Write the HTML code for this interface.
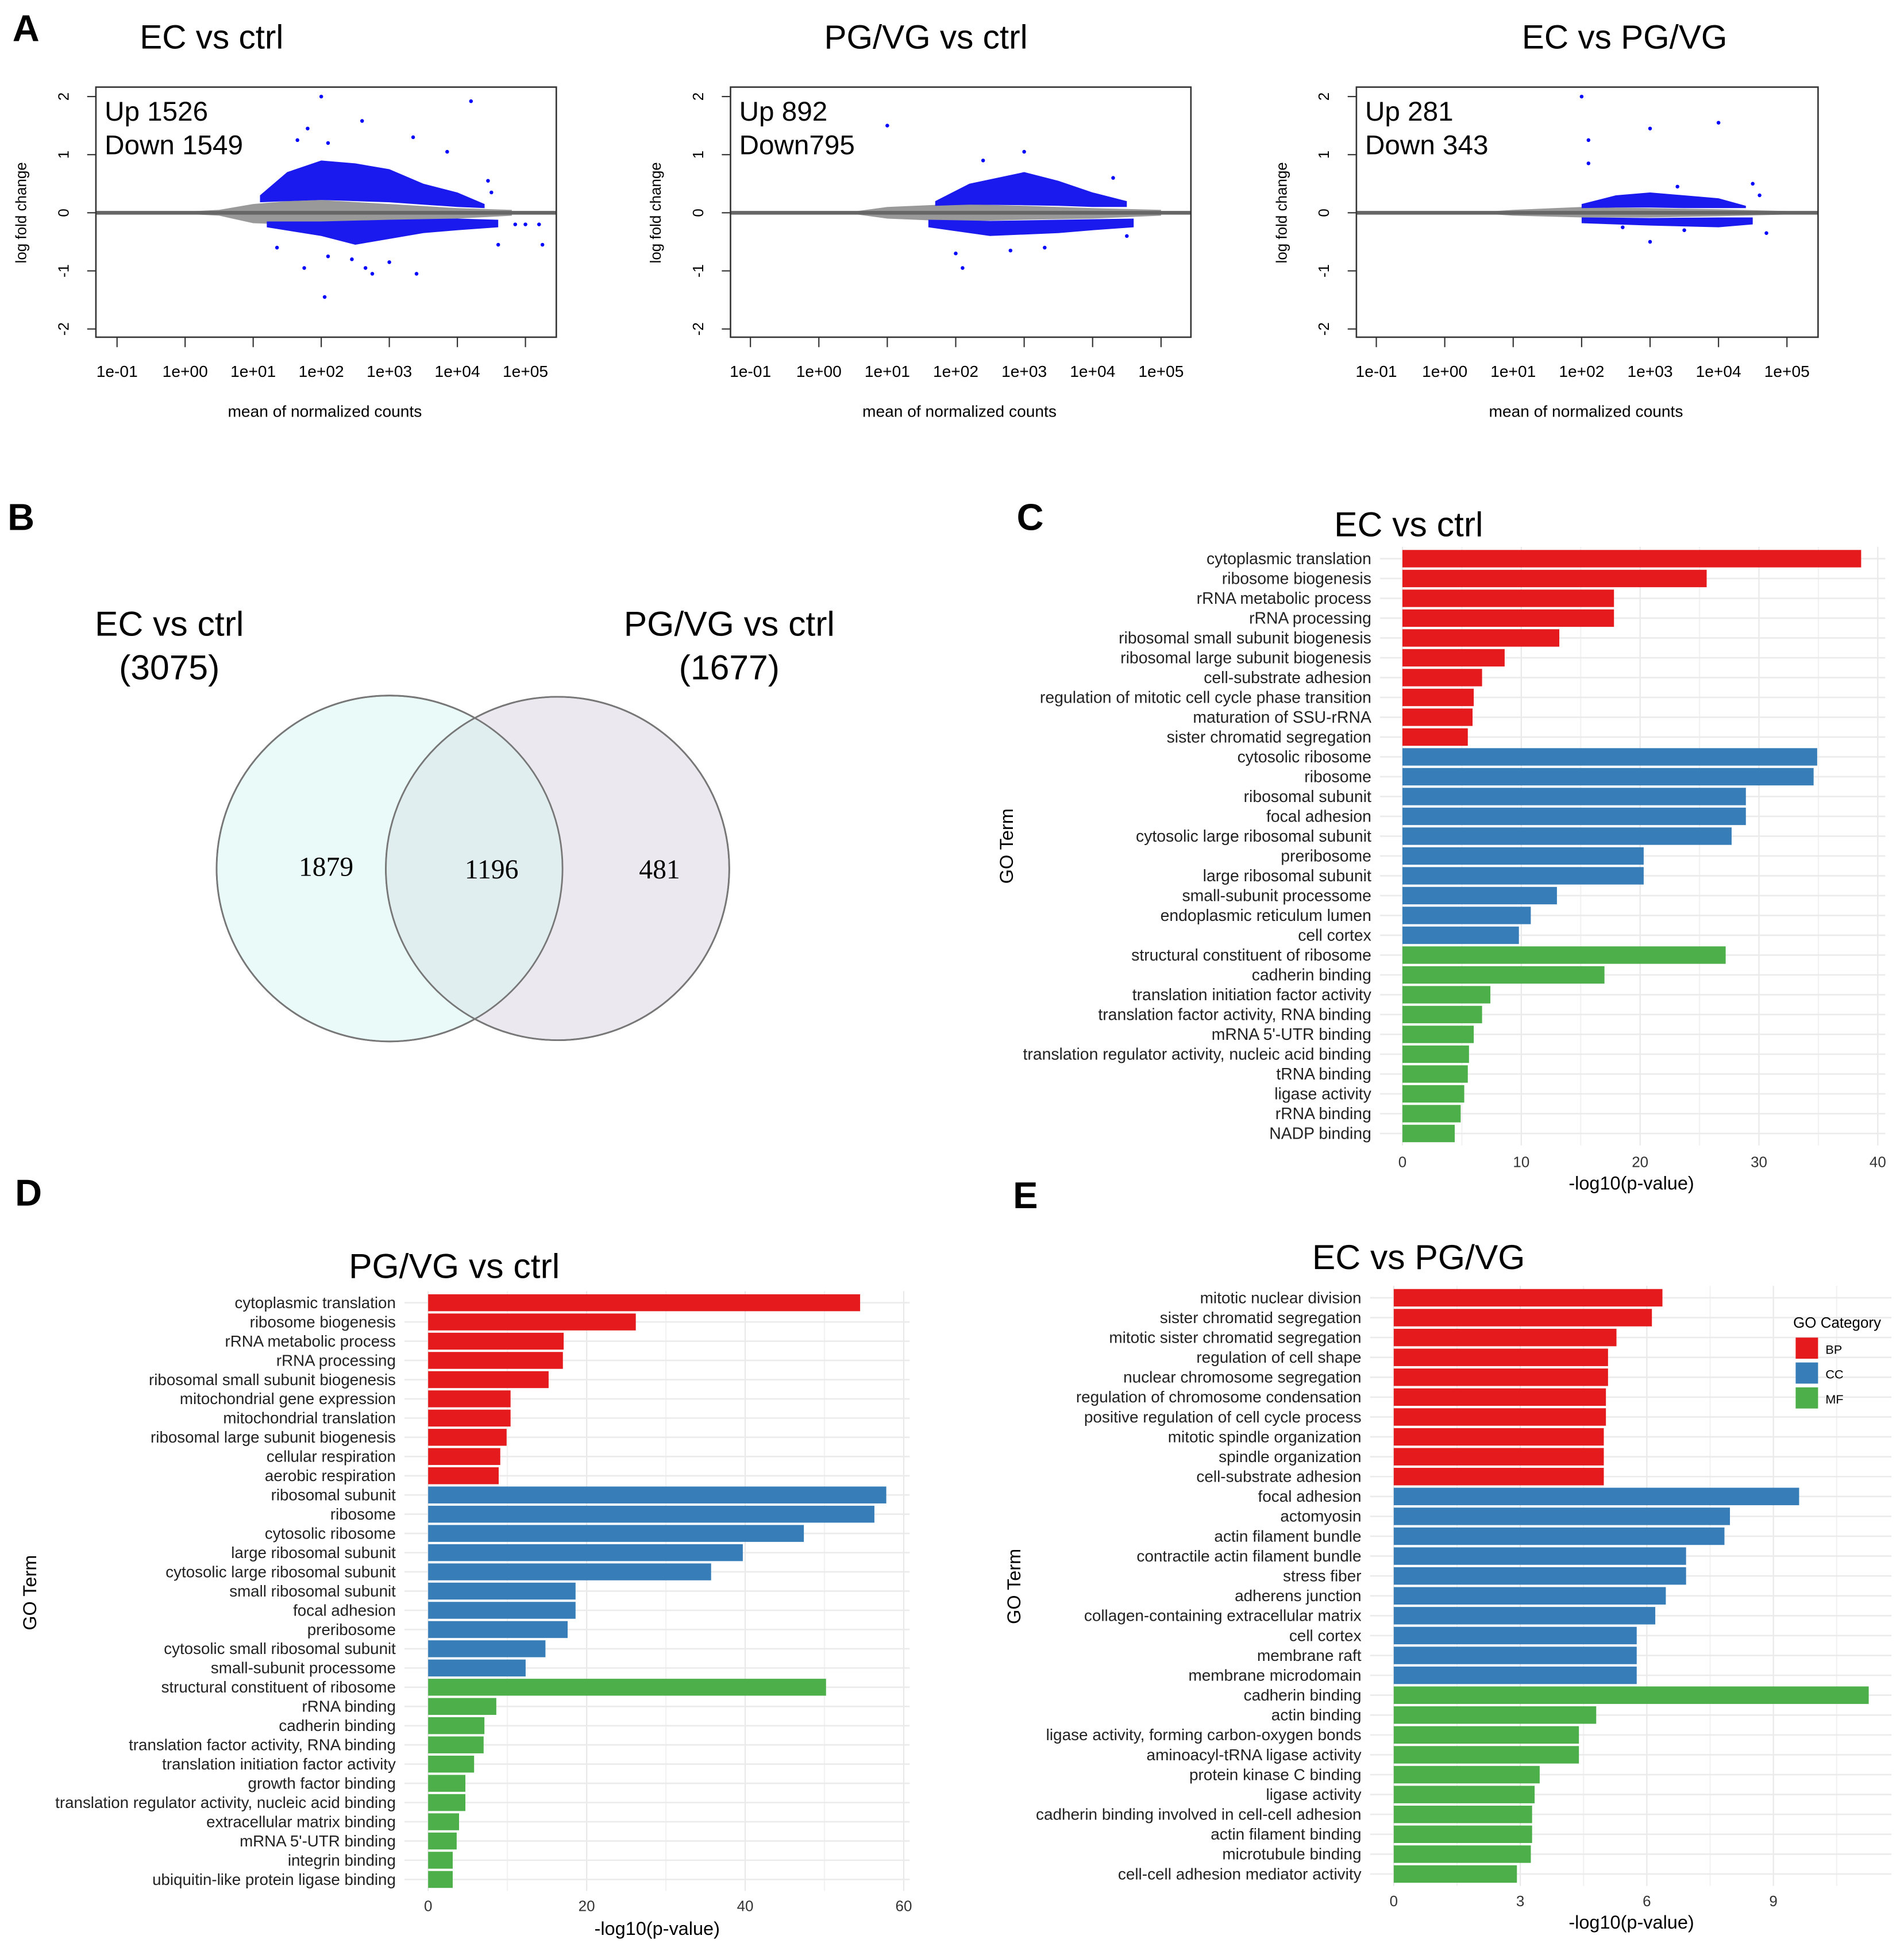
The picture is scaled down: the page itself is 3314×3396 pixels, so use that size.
<!DOCTYPE html>
<html><head><meta charset="utf-8"><style>
html,body{margin:0;padding:0;background:#fff;}
svg{display:block;}
text{font-family:"Liberation Sans",sans-serif;}
.nar{font-family:"Liberation Sans Narrow","Liberation Sans",sans-serif;}
</style></head><body>
<svg id="fig" xmlns="http://www.w3.org/2000/svg" width="3314" height="3396" viewBox="0 0 1530 1568">
<rect width="1530" height="1568" fill="#fff"/>
<g font-weight="bold" font-size="30">
<text x="10" y="33">A</text><text x="6" y="426">B</text><text x="817" y="426">C</text><text x="12" y="969">D</text><text x="814" y="971">E</text>
</g>
<g>
<defs><clipPath id="c1"><circle cx="313" cy="698" r="139"/></clipPath></defs>
<circle cx="313" cy="698" r="139" fill="#eafaf8" stroke="#777" stroke-width="1.3"/>
<circle cx="448" cy="698" r="138" fill="#ece8ef" stroke="#777" stroke-width="1.3"/>
<circle cx="448" cy="698" r="138" fill="#e1eef0" clip-path="url(#c1)" stroke="none"/>
<circle cx="313" cy="698" r="139" fill="none" stroke="#777" stroke-width="1.3"/>
<circle cx="448" cy="698" r="138" fill="none" stroke="#777" stroke-width="1.3"/>
<text x="136" y="511" font-size="28" text-anchor="middle">EC vs ctrl</text>
<text x="136" y="546" font-size="28" text-anchor="middle">(3075)</text>
<text x="586" y="511" font-size="28" text-anchor="middle">PG/VG vs ctrl</text>
<text x="586" y="546" font-size="28" text-anchor="middle">(1677)</text>
<g font-size="22" text-anchor="middle">
<text x="262" y="704" style="font-family:'Liberation Serif',serif">1879</text>
<text x="395" y="706" style="font-family:'Liberation Serif',serif">1196</text>
<text x="530" y="706" style="font-family:'Liberation Serif',serif">481</text>
</g>
</g>
<g id="ma"></g>
<g id="bars"></g>
</svg>
<script>
var NS="http://www.w3.org/2000/svg";
function mk(p,tag,at,txt){var e=document.createElementNS(NS,tag);for(var k in at)e.setAttribute(k,at[k]);if(txt!==undefined)e.textContent=txt;p.appendChild(e);return e;}

// ===== MA plot data =====
var maTitles=["EC vs ctrl","PG/VG vs ctrl","EC vs PG/VG"];
var maUp=["Up 1526","Up 892","Up 281"];
var maDown=["Down 1549","Down795","Down 343"];
var xTickLabels=["1e-01","1e+00","1e+01","1e+02","1e+03","1e+04","1e+05"];
var yTickLabels=["2","1","0","-1","-2"];
// envelopes: [log10 mean, lfc]
var greyTop1=[[0,0.02],[0.5,0.05],[1,0.15],[1.5,0.2],[2,0.22],[3,0.15],[4,0.08],[4.8,0.05]];
var greyBot1=[[0,-0.02],[0.5,-0.05],[1,-0.18],[1.5,-0.2],[2,-0.2],[3,-0.15],[4,-0.1],[4.8,-0.05]];
var upTop1=[[1.1,0.3],[1.5,0.7],[2,0.9],[2.5,0.85],[3,0.75],[3.5,0.5],[4,0.35],[4.4,0.15]];
var upBot1=[[1.1,0.18],[1.5,0.2],[2,0.22],[2.5,0.2],[3,0.18],[3.5,0.14],[4,0.1],[4.4,0.08]];
var dnTop1=[[1.2,-0.15],[2,-0.15],[3,-0.12],[4,-0.1],[4.6,-0.12]];
var dnBot1=[[1.2,-0.25],[2,-0.4],[2.5,-0.55],[3,-0.45],[3.5,-0.35],[4,-0.3],[4.6,-0.25]];
var pts1=[[2.0,2.0],[4.2,1.92],[2.6,1.58],[1.8,1.45],[1.65,1.25],[2.1,1.2],[3.35,1.3],[3.85,1.05],[4.45,0.55],[4.5,0.35],[1.35,-0.6],[1.75,-0.95],[2.45,-0.8],[2.1,-0.75],[2.65,-0.95],[2.75,-1.05],[3.0,-0.85],[3.4,-1.05],[2.05,-1.45],[4.6,-0.55],[5.2,-0.2],[5.0,-0.2],[5.25,-0.55],[4.85,-0.2]];
var greyTop2=[[0.5,0.02],[1,0.1],[2,0.15],[3,0.12],[4,0.08],[5,0.05]];
var greyBot2=[[0.5,-0.02],[1,-0.1],[2,-0.15],[3,-0.12],[4,-0.1],[5,-0.05]];
var upTop2=[[1.7,0.2],[2.2,0.5],[3,0.7],[3.5,0.55],[4,0.35],[4.5,0.2]];
var upBot2=[[1.7,0.12],[2.2,0.14],[3,0.13],[3.5,0.12],[4,0.1],[4.5,0.1]];
var dnTop2=[[1.6,-0.12],[2.5,-0.14],[3.5,-0.12],[4.6,-0.1]];
var dnBot2=[[1.6,-0.25],[2.5,-0.4],[3.5,-0.35],[4,-0.3],[4.6,-0.25]];
var pts2=[[1.0,1.5],[3.0,1.05],[2.4,0.9],[4.3,0.6],[2.0,-0.7],[2.8,-0.65],[2.1,-0.95],[3.3,-0.6],[4.5,-0.4]];
var greyTop3=[[0.5,0.01],[1,0.05],[2,0.1],[3,0.08],[4,0.06],[5,0.03]];
var greyBot3=[[0.5,-0.01],[1,-0.05],[2,-0.08],[3,-0.08],[4,-0.06],[5,-0.03]];
var upTop3=[[2,0.15],[2.5,0.3],[3,0.35],[3.5,0.3],[4,0.25],[4.4,0.12]];
var upBot3=[[2,0.08],[2.5,0.09],[3,0.09],[3.5,0.08],[4,0.08],[4.4,0.08]];
var dnTop3=[[2,-0.08],[3,-0.09],[4,-0.08],[4.5,-0.08]];
var dnBot3=[[2,-0.18],[3,-0.22],[4,-0.25],[4.5,-0.2]];
var pts3=[[2.0,2.0],[3.0,1.45],[4.0,1.55],[2.1,1.25],[2.1,0.85],[4.5,0.5],[4.6,0.3],[3.4,0.45],[3.0,-0.5],[3.5,-0.3],[4.7,-0.35],[2.6,-0.25]];

var maBoxes=[[77,447],[587,957],[1090,1461]];
var maTick0=[94,603,1106];
var greyTops=[greyTop1,greyTop2,greyTop3],greyBots=[greyBot1,greyBot2,greyBot3];
var upTops=[upTop1,upTop2,upTop3],upBots=[upBot1,upBot2,upBot3];
var dnTops=[dnTop1,dnTop2,dnTop3],dnBots=[dnBot1,dnBot2,dnBot3];
var ptsAll=[pts1,pts2,pts3];

var ma=document.getElementById('ma');
for(var i=0;i<3;i++){
  var g=mk(ma,'g',{});
  
  
  var bx=maBoxes[i],t0=maTick0[i];
  var dec=(i==0?54.7:55);
  var yT=70,yB=271,y0=171,yu=46.7;
  var X=(function(t0,dec){return function(l){return t0+(l+1)*dec;};})(t0,dec);
  var Y=function(v){return y0-v*yu;};
  var cx=(bx[0]+bx[1])/2;
  var tt=mk(g,'text',{x:cx-(i==0?92:(i==1?28:-30)),y:39,'font-size':27,'text-anchor':'middle'},maTitles[i]);
  
  
  function poly(top,bot,fill){
    var d='';top.forEach(function(p,k){d+=(k?'L':'M')+X(p[0])+','+Y(p[1]);});
    bot.slice().reverse().forEach(function(p){d+='L'+X(p[0])+','+Y(p[1]);});
    var e=mk(g,'path',{d:d+'Z',fill:fill});
    
    
  }
  poly(greyTops[i],greyBots[i],'#999');
  poly(upTops[i],upBots[i],'#1a1aee');
  poly(dnTops[i],dnBots[i],'#1a1aee');
  poly(greyTops[i].map(function(p){return [p[0],p[1]*0.5];}),greyBots[i].map(function(p){return [p[0],p[1]*0.5];}),'#999');
  ptsAll[i].forEach(function(p){
    var c=mk(g,'circle',{cx:X(p[0]),cy:Y(p[1]),r:1.5,fill:'#0000ff'});
    
    
  });
  mk(g,'line',{x1:bx[0],x2:bx[1],y1:Y(0),y2:Y(0),stroke:'#666','stroke-width':3});
  mk(g,'rect',{x:bx[0],y:yT,width:bx[1]-bx[0],height:yB-yT,fill:'none',stroke:'#333','stroke-width':1.2});
  xTickLabels.forEach(function(s,k){
    var x=X(k-1);
    mk(g,'line',{x1:x,x2:x,y1:yB,y2:yB+8,stroke:'#333'});
    var e=mk(g,'text',{x:x,y:303,'font-size':13,'text-anchor':'middle',class:'nar'},s);
    
    
  });
  yTickLabels.forEach(function(s,k){
    var v=2-k,y=Y(v);
    mk(g,'line',{x1:bx[0],x2:bx[0]-7,y1:y,y2:y,stroke:'#333'});
    var e=mk(g,'text',{x:0,y:0,'font-size':12,'text-anchor':'middle',transform:'translate('+(bx[0]-22)+','+y+') rotate(-90)'},s);
    
    
  });
  var yl=mk(g,'text',{x:0,y:0,'font-size':12,'text-anchor':'middle',transform:'translate('+(bx[0]-56)+',171) rotate(-90)'},'log fold change');
  
  
  var xl=mk(g,'text',{x:(bx[0]+bx[1])/2-1,y:335,'font-size':13,'text-anchor':'middle',class:'nar'},'mean of normalized counts');
  
  
  mk(g,'text',{x:bx[0]+7,y:97,'font-size':22,class:'nar'},maUp[i]);
  mk(g,'text',{x:bx[0]+7,y:124,'font-size':22,class:'nar'},maDown[i]);
}

// ===== GO bar chart data =====
var catC=["cytoplasmic translation","ribosome biogenesis","rRNA metabolic process","rRNA processing","ribosomal small subunit biogenesis","ribosomal large subunit biogenesis","cell-substrate adhesion","regulation of mitotic cell cycle phase transition","maturation of SSU-rRNA","sister chromatid segregation","cytosolic ribosome","ribosome","ribosomal subunit","focal adhesion","cytosolic large ribosomal subunit","preribosome","large ribosomal subunit","small-subunit processome","endoplasmic reticulum lumen","cell cortex","structural constituent of ribosome","cadherin binding","translation initiation factor activity","translation factor activity, RNA binding","mRNA 5'-UTR binding","translation regulator activity, nucleic acid binding","tRNA binding","ligase activity","rRNA binding","NADP binding"];
var valC=[38.6,25.6,17.8,17.8,13.2,8.6,6.7,6.0,5.9,5.5,34.9,34.6,28.9,28.9,27.7,20.3,20.3,13.0,10.8,9.8,27.2,17.0,7.4,6.7,6.0,5.6,5.5,5.2,4.9,4.4];
var catD=["cytoplasmic translation","ribosome biogenesis","rRNA metabolic process","rRNA processing","ribosomal small subunit biogenesis","mitochondrial gene expression","mitochondrial translation","ribosomal large subunit biogenesis","cellular respiration","aerobic respiration","ribosomal subunit","ribosome","cytosolic ribosome","large ribosomal subunit","cytosolic large ribosomal subunit","small ribosomal subunit","focal adhesion","preribosome","cytosolic small ribosomal subunit","small-subunit processome","structural constituent of ribosome","rRNA binding","cadherin binding","translation factor activity, RNA binding","translation initiation factor activity","growth factor binding","translation regulator activity, nucleic acid binding","extracellular matrix binding","mRNA 5'-UTR binding","integrin binding","ubiquitin-like protein ligase binding"];
var valD=[54.5,26.2,17.1,17.0,15.2,10.4,10.4,9.9,9.1,8.9,57.8,56.3,47.4,39.7,35.7,18.6,18.6,17.6,14.8,12.3,50.2,8.6,7.1,7.0,5.8,4.7,4.7,3.9,3.6,3.1,3.1];
var catE=["mitotic nuclear division","sister chromatid segregation","mitotic sister chromatid segregation","regulation of cell shape","nuclear chromosome segregation","regulation of chromosome condensation","positive regulation of cell cycle process","mitotic spindle organization","spindle organization","cell-substrate adhesion","focal adhesion","actomyosin","actin filament bundle","contractile actin filament bundle","stress fiber","adherens junction","collagen-containing extracellular matrix","cell cortex","membrane raft","membrane microdomain","cadherin binding","actin binding","ligase activity, forming carbon-oxygen bonds","aminoacyl-tRNA ligase activity","protein kinase C binding","ligase activity","cadherin binding involved in cell-cell adhesion","actin filament binding","microtubule binding","cell-cell adhesion mediator activity"];
var valE=[6.37,6.12,5.28,5.08,5.08,5.03,5.03,4.98,4.98,4.98,9.61,7.97,7.84,6.93,6.93,6.45,6.20,5.76,5.76,5.76,11.26,4.80,4.39,4.39,3.46,3.34,3.28,3.28,3.25,2.92];
var catGroupC=[10,10,10],catGroupD=[10,10,11],catGroupE=[10,10,10];
var ticksC=[0,10,20,30,40],ticksD=[0,20,40,60],ticksE=[0,3,6,9];
var colors=["#e41a1c","#377eb8","#4daf4a"];

var charts=[
 {name:'go-chart-ec-vs-ctrl',title:'EC vs ctrl',tx:1132,ty:431,cats:catC,vals:valC,grp:catGroupC,ticks:ticksC,x0:1127,ppu:9.55,right:1515,y1:449,sp:15.93,lab:1102,tickY:938,titY:956,goX:814,goY:680,nar:true,fs:13.1},
 {name:'go-chart-pgvg-vs-ctrl',title:'PG/VG vs ctrl',tx:365,ty:1027,cats:catD,vals:valD,grp:catGroupD,ticks:ticksD,x0:344,ppu:6.37,right:731,y1:1047,sp:15.45,lab:318,tickY:1536,titY:1555,goX:29,goY:1280,nar:false,fs:12.8},
 {name:'go-chart-ec-vs-pgvg',title:'EC vs PG/VG',tx:1140,ty:1020,cats:catE,vals:valE,grp:catGroupE,ticks:ticksE,x0:1120,ppu:33.9,right:1520,y1:1043,sp:15.97,lab:1094,tickY:1532,titY:1550,goX:820,goY:1275,nar:false,fs:12.9}
];
var bars=document.getElementById('bars');
charts.forEach(function(c,ci){
  var g=mk(bars,'g',{});
  
  
  var n=c.cats.length;
  var X=function(v){return c.x0+v*c.ppu;};
  var Yc=function(k){return c.y1+k*c.sp;};
  var top=Yc(0)-c.sp*0.6,bot=Yc(n-1)+c.sp*0.6;
  var step=c.ticks[1]-c.ticks[0];
  for(var v=0;X(v)<=c.right+1;v+=step/2){
    mk(g,'line',{x1:X(v),x2:X(v),y1:top,y2:bot,stroke:(Math.abs(v/step-Math.round(v/step))<1e-6)?'#e8e8e8':'#f2f2f2','stroke-width':1});
  }
  for(var k=0;k<n;k++){
    mk(g,'line',{x1:c.lab+7,x2:c.right,y1:Yc(k),y2:Yc(k),stroke:'#ebebeb','stroke-width':1.2});
  }
  var t=mk(g,'text',{x:c.tx,y:c.ty,'font-size':28,'text-anchor':'middle',class:c.nar?'nar':''},c.title);
  
  
  var bh=c.sp*0.88;
  for(var k=0;k<n;k++){
    var gi=k<c.grp[0]?0:(k<c.grp[0]+c.grp[1]?1:2);
    var r=mk(g,'rect',{x:X(0),y:Yc(k)-bh/2,width:c.vals[k]*c.ppu,height:bh,fill:colors[gi]});
    
    
    var l=mk(g,'text',{x:c.lab,y:Yc(k)+4.3,'font-size':c.fs,'text-anchor':'end',fill:'#222',class:c.nar?'nar':''},c.cats[k]);
    
    
  }
  c.ticks.forEach(function(tv){
    var e=mk(g,'text',{x:X(tv),y:c.tickY,'font-size':12,'text-anchor':'middle',fill:'#333'},String(tv));
    
    
  });
  var xt=mk(g,'text',{x:1311-(ci==1?783:0),y:c.titY,'font-size':15,'text-anchor':'middle'},'-log10(p-value)');
  
  
  var yt=mk(g,'text',{x:0,y:0,'font-size':15,'text-anchor':'middle',transform:'translate('+c.goX+','+c.goY+') rotate(-90)'},'GO Term');
  
  
});
var lg=mk(bars,'g',{});


mk(lg,'text',{x:1441,y:1067,'font-size':12},'GO Category');
var legLabels=["BP","CC","MF"];
legLabels.forEach(function(s,k){
  var r=mk(lg,'rect',{x:1443,y:1075+k*20,width:18,height:17,fill:colors[k]});
  
  
  mk(lg,'text',{x:1467,y:1088+k*20,'font-size':10},s);
});
</script>
</body></html>
